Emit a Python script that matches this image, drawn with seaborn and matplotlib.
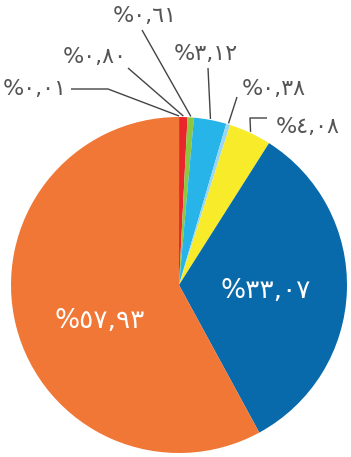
import matplotlib
matplotlib.use("Agg")
import matplotlib.pyplot as plt
import seaborn as sns
import numpy as np

# ---- data ----
values = [0.01, 0.80, 0.61, 3.12, 0.38, 4.08, 33.07, 57.93]
labels = ["%٠,٠١", "%٠,٨٠", "%٠,٦١", "%٣,١٢", "%٠,٣٨", "%٤,٠٨", "%٣٣,٠٧", "%٥٧,٩٣"]
colors = ["#a3161d", "#e8262b", "#8dc63f", "#27b4e9", "#9ad5f3", "#f8ec2a", "#0869ab", "#f07735"]

sns.set_theme(style="white")
plt.rcParams["font.family"] = ["DejaVu Sans Condensed", "DejaVu Sans"]

W, H = 351, 457
fig = plt.figure(figsize=(W / 100, H / 100), dpi=100)
ax = fig.add_axes([0, 0, 1, 1])

def Y(py):
    return H - py

cx, cy, R = 179, Y(285), 168
wedges, _ = ax.pie(values, colors=colors, startangle=90, counterclock=False,
                   center=(cx, cy), radius=R, wedgeprops=dict(linewidth=0))

ax.set_xlim(0, W)
ax.set_ylim(0, H)
ax.set_aspect("equal")
ax.axis("off")

def edge_point(w, rr=R):
    a = np.deg2rad((w.theta1 + w.theta2) / 2)
    return cx + rr * np.cos(a), cy + rr * np.sin(a)

# layout for outer labels: (text x, text y, ha, leader polyline in pixel coords)
outer = {
    0: (67, 89, "right", [(71, 89), (108, 89)]),
    1: (127, 57, "right", [(128, 68)]),
    2: (177, 16, "right", [(142, 30)]),
    3: (206, 54, "center", [(208, 68)]),
    4: (242, 89, "left", [(237, 97)]),
    5: (276, 127, "left", [(267, 118), (250, 118)]),
}
gray = "#555555"
for i, (tx, ty, ha, pts) in outer.items():
    ax.text(tx, Y(ty), labels[i], ha=ha, va="center", fontsize=16,
            color=gray)
    ex, ey = edge_point(wedges[i], R + 1)
    xs = [p[0] for p in pts] + [ex]
    ys = [Y(p[1]) for p in pts] + [ey]
    ax.plot(xs, ys, color="#444444", lw=1.0, solid_capstyle="butt")

# inner labels
ax.text(266, Y(291), labels[6], ha="center", va="center", fontsize=19,
        color="white")
ax.text(100, Y(321), labels[7], ha="center", va="center", fontsize=19,
        color="white")

fig.savefig("out.png", dpi=100)
